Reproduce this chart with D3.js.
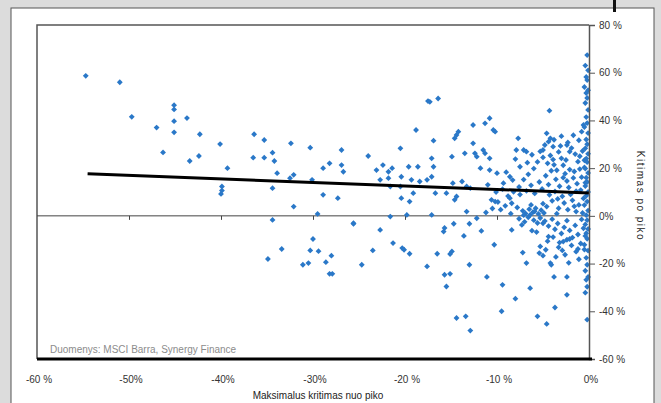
<!DOCTYPE html>
<html>
<head>
<meta charset="utf-8">
<script src="https://cdn.jsdelivr.net/npm/d3@7"></script>
<style>
  body { margin: 0; background: #dcdcdc; }
  svg { display: block; font-family: "Liberation Sans", Arial, sans-serif; }
</style>
</head>
<body>
<div id="chart"></div>
<script>
// chart size
const width = 661
const height = 403
const margin = { top: 25, right: 72, bottom: 44, left: 37 }

// x = max drawdown from peak (%), y = change after peak (%)
const farPoints = [
  [-54.7, 58.7], [-51.0, 56.0], [-49.7, 41.5], [-47.0, 37.0], [-45.1, 46.4], [-45.1, 44.6],
  [-45.1, 39.7], [-45.1, 35.0], [-43.7, 41.0], [-46.3, 26.6], [-43.4, 23.0], [-42.3, 34.2],
  [-42.4, 25.1], [-40.1, 30.1], [-39.3, 20.0], [-39.9, 12.3], [-39.9, 10.6], [-40.0, 9.2],
  [-36.4, 34.2], [-35.3, 31.8], [-36.5, 24.4], [-35.3, 24.4], [-34.4, 26.5], [-34.2, 23.0],
  [-33.9, 17.9], [-34.4, 11.6], [-32.4, 30.4], [-32.1, 17.2], [-32.5, 15.8], [-30.3, 28.6],
  [-32.1, 3.9], [-34.4, -1.7], [-28.9, 8.8], [-28.9, 20.0], [-29.5, 0.8], [-30.1, 15.1],
  [-30.0, -9.7], [-33.4, -13.9], [-34.9, -18.1], [-30.3, -14.5], [-29.4, -14.8], [-31.1, -20.5],
  [-30.5, -19.8], [-28.6, -19.4], [-28.2, -24.3]
]

const midPoints = [
  [-28.0, -16.7], [-27.9, -24.3], [-25.6, -3.3], [-24.7, -20.5], [-23.5, -14.5], [-22.7, -5.9],
  [-21.3, -11.4], [-20.3, -13.5], [-20.1, -14.2], [-19.5, -15.9], [-17.6, -21.2], [-16.5, -15.9],
  [-15.8, -6.6], [-15.7, -5.1], [-14.7, -3.3], [-14.9, -14.9], [-15.1, -16.0], [-13.6, -8.4],
  [-13.0, -3.3], [-13.0, -20.5], [-15.7, -24.7], [-15.1, -24.3], [-15.5, -29.6], [-14.4, -42.8],
  [-13.4, -42.1], [-12.9, -48.1], [-11.7, -6.3], [-11.1, -25.6], [-10.3, -12.1], [-9.5, -40.0],
  [-9.4, -28.9], [-8.4, -5.9], [-8.0, -34.7], [-7.3, -3.8], [-7.2, -15.4], [-6.8, -19.8],
  [-6.4, -30.3], [-6.2, -6.2], [-5.7, -6.8], [-5.4, -15.6], [-5.3, -12.8], [-4.7, -14.2],
  [-5.0, -16.7], [-4.2, -19.8], [-4.1, -20.5], [-5.6, -42.1], [-4.6, -45.3], [-3.8, -25.6],
  [-3.7, -38.4], [-2.8, -10.8], [-2.4, -10.0], [-2.1, -9.7], [-3.2, -11.2], [-2.9, -14.5],
  [-2.4, -25.6], [-2.4, -33.1], [-1.2, -13.9], [-5.0, -3.1], [-4.4, -8.7], [-21.6, -0.3],
  [-19.8, 0.4], [-17.1, 0.4], [-13.3, 1.8], [-12.2, -1.0],
  [-28.2, 22.0], [-26.9, 27.6], [-26.9, 21.3], [-26.7, 18.5], [-27.3, 7.4], [-25.6, -3.1],
  [-24.0, 25.1], [-23.1, 19.2], [-22.4, 21.3], [-21.8, 18.5], [-21.4, 20.0], [-22.7, 15.1],
  [-21.8, 15.8], [-21.6, 12.3], [-20.5, 12.3], [-20.4, 16.4], [-19.6, 20.6], [-18.6, 20.6],
  [-19.3, 15.1], [-19.1, 9.5], [-20.4, 7.4], [-19.5, 6.0], [-18.4, 14.4], [-17.6, 15.1],
  [-17.1, 16.4], [-16.9, 20.6], [-16.7, 9.5], [-20.5, 28.3], [-18.8, 36.0], [-17.5, 48.1],
  [-16.4, 49.2], [-17.3, 47.8], [-16.9, 31.5], [-17.1, 24.1], [-14.9, 24.8], [-14.4, 33.9],
  [-14.2, 35.3], [-14.6, 32.5], [-13.5, 26.2], [-12.6, 38.1], [-12.6, 30.4], [-12.4, 26.2],
  [-12.2, 24.8], [-11.3, 38.8], [-10.8, 40.9], [-10.4, 36.0], [-10.2, 35.3], [-11.5, 27.6],
  [-11.3, 26.2], [-10.8, 24.1], [-14.8, 13.7], [-13.8, 14.4], [-13.3, 12.3], [-12.9, 11.6],
  [-14.4, 8.1], [-14.6, 6.7], [-15.5, 9.5], [-11.8, 20.0], [-10.8, 19.2], [-10.0, 17.9],
  [-10.6, 6.7], [-10.2, 6.0], [-8.6, 7.4], [-8.4, 5.3], [-7.7, 32.5], [-7.9, 27.6],
  [-7.5, 20.6], [-8.6, 16.4], [-9.3, 13.7], [-7.1, 27.6], [-6.8, 26.9], [-4.3, 44.1],
  [-4.6, 34.6], [-4.2, 32.5], [-4.4, 31.1], [-3.9, 29.0], [-5.0, 27.6], [-2.4, 29.7],
  [-2.1, 26.9], [-0.6, 38.1], [-0.8, 35.3]
]

const nearPoints = [
  [-7.8, 3.5], [-7.2, 2.1], [-6.9, 1.0], [-6.5, 2.8], [-6.1, 1.5], [-5.8, 3.2], [-5.5, 0.8],
  [-5.2, 2.4], [-4.9, 1.2], [-4.6, 3.9], [-7.5, 8.9], [-6.8, 10.5], [-6.3, 12.8], [-5.9, 9.4],
  [-5.4, 14.2], [-5.1, 11.3], [-4.7, 16.8], [-4.4, 13.1], [-4.1, 18.9], [-3.8, 21.4], [-6.6, 17.4],
  [-6.0, 19.8], [-5.6, 22.6], [-5.0, 24.5], [-4.5, 22.0], [-4.2, 25.3], [-3.9, 23.6], [-3.5, 19.1],
  [-3.3, 26.8], [-3.0, 24.1], [-2.8, 21.2], [-2.6, 17.7], [-2.4, 14.6], [-2.2, 11.9], [-2.0, 9.0],
  [-1.8, 6.5], [-1.6, 4.0], [-1.4, 1.8], [-3.6, 15.3], [-3.2, 12.4], [-2.9, 8.2], [-2.7, 5.4],
  [-3.4, 7.1], [-3.7, 10.2], [-4.0, 6.3], [-4.3, 8.8], [-1.2, 22.7], [-1.0, 19.6], [-0.8, 16.2],
  [-1.5, 25.9], [-1.9, 28.4], [-2.3, 30.8], [-1.1, 31.7], [-0.7, 27.2], [-0.5, 23.3], [-1.3, 13.5],
  [-0.9, 10.8], [-0.6, 7.3], [-1.7, 15.9], [-2.1, 19.4], [-2.5, 23.4], [-3.1, 29.3], [-3.8, 31.9],
  [-4.8, 29.7], [-5.3, 27.0], [-6.2, 25.6], [-6.7, 22.3], [-7.1, 15.2], [-7.6, 12.1], [-8.2, 10.1],
  [-8.8, 8.3], [-9.1, 4.2], [-9.6, 2.6], [-8.5, 0.9], [-9.9, 5.8], [-10.5, 3.1], [-11.2, 1.4],
  [-8.0, 23.8], [-9.0, 18.3], [-8.3, 15.0], [-9.4, 11.2], [-10.1, 10.0], [-11.0, 13.0],
  [-7.6, -1.2], [-7.0, -2.5], [-6.6, -0.6], [-6.0, -1.8], [-5.6, -3.0], [-5.3, -0.9], [-4.8, -2.2],
  [-4.4, -4.3], [-4.0, -1.4], [-3.7, -5.6], [-3.4, -3.2], [-3.0, -7.4], [-2.7, -4.8], [-2.4, -2.0],
  [-2.1, -6.1], [-1.8, -9.1], [-1.5, -4.0], [-1.2, -7.8], [-0.9, -11.6], [-0.6, -5.2], [-1.4, -15.0],
  [-1.9, -12.4], [-2.6, -16.3], [-3.3, -13.2], [-3.9, -8.9], [-4.5, -10.6], [-0.8, -1.5],
  [-0.5, -14.1], [-1.1, -18.2], [-2.2, -19.7], [-3.6, -17.2], [-0.4, -8.4],
  [-6.4, 0.4], [-5.9, 1.9], [-7.1, 0.3], [-6.3, 4.6], [-5.0, 5.1], [-3.3, 3.2], [-2.3, 2.6],
  [-1.1, 4.6], [-0.7, 1.2], [-3.5, 0.9], [-2.8, 16.0], [-1.6, 18.6], [-1.4, 10.3], [-0.4, 13.9],
  [-0.4, 19.8], [-1.0, 25.0], [-3.0, 33.4], [-1.7, 33.8]
]

// points lying on the right axis (drawdown close to 0%)
const axisX = [-0.2, -0.4, -0.1, -0.3, -0.2, -0.5, -0.1, -0.3, -0.2, -0.4, -0.1, -0.3, -0.2, -0.5,
  -0.1, -0.3, -0.2, -0.4, -0.1, -0.3, -0.2, -0.5, -0.1, -0.3, -0.2, -0.4, -0.1, -0.3, -0.2, -0.5,
  -0.1, -0.3, -0.2, -0.4, -0.1, -0.3, -0.2, -0.5, -0.1, -0.3, -0.2, -0.4, -0.1, -0.3, -0.2, -0.4, -0.2]
const axisY = [67.4, 63, 61, 58.2, 56.9, 54, 52.7, 51.5, 49.4, 47.3, 44.4, 41.4, 38.9, 37.2, 34.7,
  32, 30, 28.3, 26, 24, 22.5, 20.3, 18, 16, 14.2, 12.5, 10, 8.4, 6, 4.5, 2.2, 0.3, -1.8, -3.6,
  -5.5, -7.3, -9.6, -12.1, -14.6, -17.6, -20.5, -23, -25.6, -26.8, -29.7, -32.2, -43.5]

// linear trend line end points
const trendX = [-54.5, 0]
const trendY = [17.6, 9.6]

const xTicks = [-60, -50, -40, -30, -20, -10, 0]
const xTickLabels = ["-60 %", "-50%", "-40%", "-30%", "-20 %", "-10 %", "0%"]
const yTicks = [80, 60, 40, 20, 0, -20, -40, -60]
const yTickLabels = ["80 %", "60 %", "40 %", "20 %", "0%", "-20 %", "-40 %", "-60 %"]

const axisPoints = axisX.map((x, i) => [x, axisY[i]])
const allPoints = farPoints.concat(midPoints, nearPoints, axisPoints)

const svg = d3.select("#chart")
  .append("svg")
  .attr("width", width)
  .attr("height", height)

// white panel with the dark edge
svg.append("rect")
  .attr("x", 11).attr("y", 8)
  .attr("width", 643).attr("height", 410)
  .attr("fill", "#ffffff")
  .attr("stroke", "#555").attr("stroke-width", 1)

// cropped black mark at the top edge (bit of the page above)
svg.append("rect")
  .attr("x", 613).attr("y", 0)
  .attr("width", 3).attr("height", 12)
  .attr("fill", "#111")

const x = d3.scaleLinear().domain([-60, 0]).range([margin.left, width - margin.right])
const y = d3.scaleLinear().domain([-60, 80]).range([height - margin.bottom, margin.top])

const x0 = x(-60), x1 = x(0), yTop = y(80), yBot = y(-60)

// plot frame: left and top
svg.append("path")
  .attr("d", `M${x0},${yBot}V${yTop}H${x1}`)
  .attr("fill", "none")
  .attr("stroke", "#555").attr("stroke-width", 1.5)

// zero line with small ticks below it
const zero = svg.append("g").attr("transform", `translate(0,${y(0)})`)
zero.call(d3.axisBottom(x).tickValues(xTicks.slice(1, -1)).tickSize(4).tickFormat(""))
zero.select(".domain").attr("stroke", "#444").attr("d", `M${x0},0H${x1}`)
zero.selectAll(".tick line").attr("stroke", "#444")

// source note
svg.append("text")
  .attr("x", 50).attr("y", 353)
  .attr("font-size", 10).attr("fill", "#8c8c8c")
  .text("Duomenys: MSCI Barra, Synergy Finance")

// scatter, small square diamonds like the spreadsheet markers
svg.append("g")
  .selectAll("path")
  .data(allPoints)
  .join("path")
  .attr("transform", d => `translate(${x(d[0])},${y(d[1])}) rotate(45)`)
  .attr("d", d3.symbol().type(d3.symbolSquare).size(17))
  .attr("fill", "#2a78c8")

// trend line
svg.append("path")
  .datum(trendX.map((v, i) => [v, trendY[i]]))
  .attr("d", d3.line().x(d => x(d[0])).y(d => y(d[1])))
  .attr("stroke", "#000").attr("stroke-width", 3)
  .attr("fill", "none")

// right axis
const yAxis = svg.append("g")
  .attr("transform", `translate(${x1},0)`)
  .call(d3.axisRight(y).tickValues(yTicks).tickSize(6).tickPadding(4)
    .tickFormat((d, i) => yTickLabels[i]))
yAxis.select(".domain").attr("stroke", "#555").attr("stroke-width", 1.5)
yAxis.selectAll(".tick line").attr("stroke", "#555")
yAxis.selectAll("text").attr("font-size", 10).attr("fill", "#333")
  .attr("font-family", "Liberation Sans, Arial, sans-serif")

// thick bottom border
svg.append("line")
  .attr("x1", x0).attr("x2", x1 + 3)
  .attr("y1", yBot).attr("y2", yBot)
  .attr("stroke", "#000").attr("stroke-width", 3)

// x tick labels sit under the bottom border
svg.append("g")
  .selectAll("text")
  .data(xTicks)
  .join("text")
  .attr("x", d => x(d) + 2)
  .attr("y", 383)
  .attr("text-anchor", "middle")
  .attr("font-size", 10).attr("fill", "#333")
  .text((d, i) => xTickLabels[i])

// axis titles
svg.append("text")
  .attr("x", (x0 + x1) / 2 + 5).attr("y", 399)
  .attr("text-anchor", "middle")
  .attr("font-size", 10).attr("fill", "#222")
  .text("Maksimalus kritimas nuo piko")

svg.append("text")
  .attr("transform", `translate(637,196) rotate(90)`)
  .attr("text-anchor", "middle")
  .attr("font-size", 10).attr("fill", "#222")
  .attr("letter-spacing", 1.5)
  .text("Kitimas po piko")
</script>
</body>
</html>
